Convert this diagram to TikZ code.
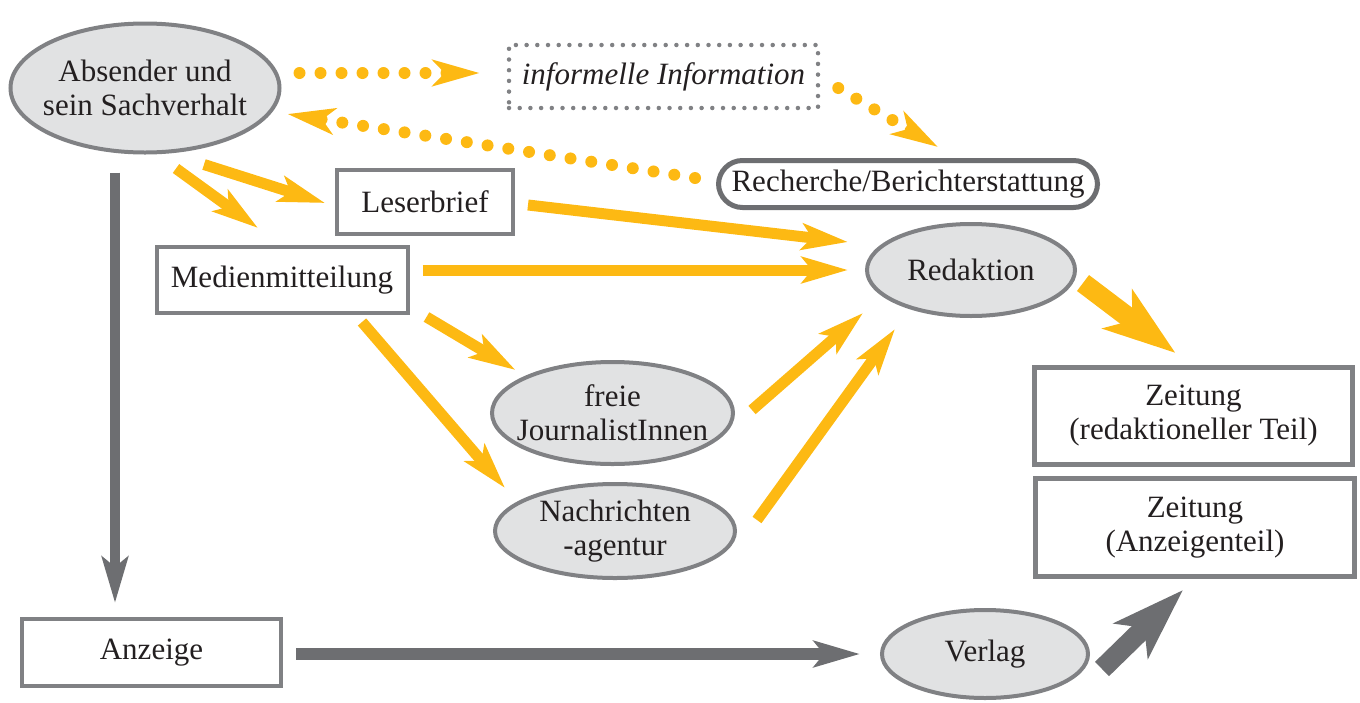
\documentclass[tikz,border=0pt]{standalone}
\usepackage{fontspec}
\setmainfont{Liberation Serif}
\usetikzlibrary{shapes.geometric,arrows.meta}
\definecolor{gelb}{HTML}{FDB913}
\definecolor{grau}{HTML}{808184}
\definecolor{dgrau}{HTML}{6D6E71}
\definecolor{hgrau}{HTML}{E1E2E3}
\definecolor{schrift}{HTML}{231F20}

\begin{document}
\begin{tikzpicture}[x=1pt, y=-1pt]
        \tikzstyle{every node}=[font=\fontsize{31}{34}\selectfont, text=schrift, align=center]
        \tikzstyle{oval}=[ellipse, draw=grau, fill=hgrau, line width=4pt, inner xsep=-15pt, inner ysep=-4pt]
        \tikzstyle{kasten}=[draw=grau, line width=4pt]
        \tikzstyle{pfeil}=[draw=gelb, line width=11pt, -{Stealth[length=46pt, width=26pt, inset=10pt]}]
        \tikzstyle{gpfeil}=[draw=dgrau, line width=11pt, -{Stealth[length=46pt, width=26pt, inset=10pt]}]
        \tikzstyle{dick}=[line width=20pt, -{Stealth[length=72pt, width=48pt, inset=18pt]}]
        \tikzstyle{punkte}=[draw=gelb, line width=12pt, line cap=round, dash pattern=on 0pt off 21pt, -{Stealth[length=47pt, width=26pt, inset=12pt]}]
        \useasboundingbox (0,0) rectangle (1360,702);
        \node [oval, minimum width=269pt, minimum height=129pt] (abs) at (145,88) {Absender und\\sein Sachverhalt};
        \node [draw=grau, line width=4.5pt, line cap=round, dash pattern=on 0pt off 10.7pt, minimum width=309pt, minimum height=63pt] (inf) at (663.5,76.5) {\itshape informelle Information};
        \node [draw=dgrau, line width=5pt, rounded corners=24pt, minimum width=379pt, minimum height=47pt, inner sep=0pt] (rec) at (908,184) {Recherche/Berichterstattung};
        \node [kasten, minimum width=176pt, minimum height=64pt] (les) at (425,202) {Leserbrief};
        \node [kasten, minimum width=251pt, minimum height=66pt] (med) at (282,280) {Medienmitteilung};
        \node [oval, minimum width=208pt, minimum height=92pt] (red) at (971,270) {Redaktion};
        \node [oval, minimum width=241pt, minimum height=102pt] (frei) at (612.5,413) {freie\\JournalistInnen};
        \node [oval, minimum width=240pt, minimum height=94pt] (nach) at (615,531) {Nachrichten\\-agentur};
        \node [kasten, line width=5pt, minimum width=318pt, minimum height=97pt] (zr) at (1193.5,416) {Zeitung\\(redaktioneller Teil)};
        \node [kasten, line width=5pt, minimum width=319pt, minimum height=98pt] (za) at (1195,527.5) {Zeitung\\(Anzeigenteil)};
        \node [kasten, minimum width=259pt, minimum height=67pt] (anz) at (151.5,652.5) {Anzeige};
        \node [oval, minimum width=206pt, minimum height=88pt] (ver) at (985,654) {Verlag};
        % gelbe Pfeile
        \draw [pfeil] ([shift={(59,10)}]abs.south) -- ([shift={(-10,1)}]les.west);
        \draw [pfeil] ([shift={(31,14)}]abs.south) -- ([shift={(-24,-17)}]med.north);
        \draw [pfeil] ([shift={(13,3)}]les.east) -- ([shift={(-17,-28)}]red.west);
        \draw [pfeil] ([shift={(13,-10)}]med.east) -- ([shift={(-17,0)}]red.west);
        \draw [pfeil] ([shift={(17,2)}]med.south east) -- ([shift={(-97,10)}]frei.north);
        \draw [pfeil] ([shift={(80,7)}]med.south) -- ([shift={(-110,6)}]nach.north);
        \draw [pfeil] ([shift={(17,-3)}]frei.east) -- ([shift={(-108,-5)}]red.south);
        \draw [pfeil] ([shift={(20,-11)}]nach.east) -- ([shift={(-76,11)}]red.south);
        \draw [pfeil, dick] ([shift={(6,13)}]red.east) -- ([shift={(-18,-12)}]zr.north);
        % graue Pfeile
        \draw [gpfeil, line width=10pt] ([shift={(-30,18)}]abs.south) -- ([shift={(-36.5,-14)}]anz.north);
        \draw [gpfeil, line width=12pt] ([shift={(13,1.5)}]anz.east) -- ([shift={(-20,0)}]ver.west);
        \draw [gpfeil, dick] ([shift={(12,15)}]ver.east) -- ([shift={(-12,11)}]za.south);
        % informelle Wege
        \draw [punkte] ([shift={(18,-15)}]abs.east) -- ([shift={(-27,-3.5)}]inf.west);
        \draw [punkte] ([shift={(18,11.5)}]inf.east) -- ([shift={(30,-11)}]rec.north);
        \draw [punkte] ([shift={(-21,-6)}]rec.west) -- ([shift={(6,26)}]abs.east);
    \end{tikzpicture}
\end{document}
